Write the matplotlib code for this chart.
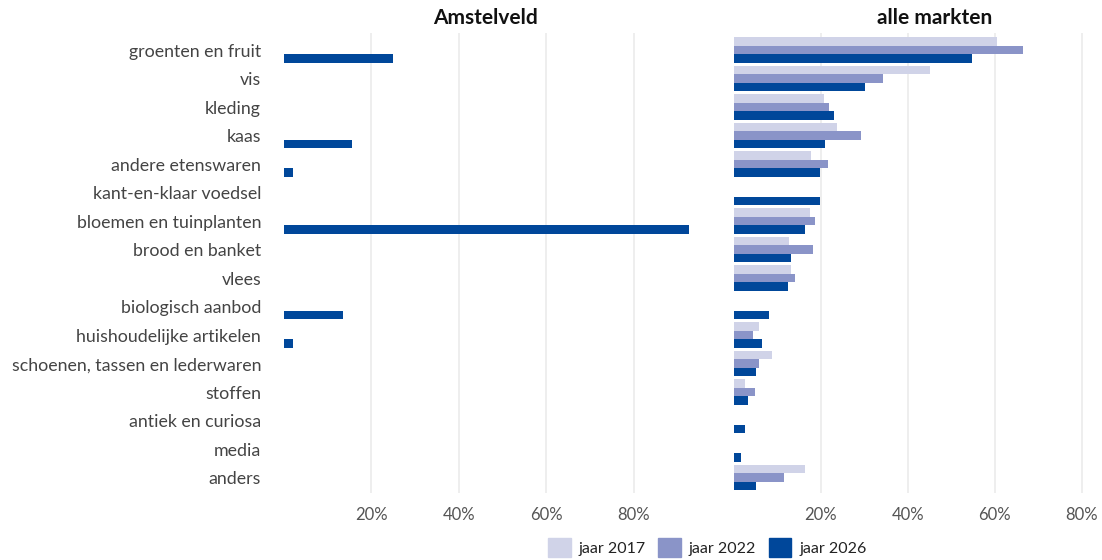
import matplotlib.pyplot as plt
from matplotlib.patches import Patch
import numpy as np

plt.rcParams['font.family'] = ['Lato', 'DejaVu Sans']

categories = ["groenten en fruit", "vis", "kleding", "kaas", "andere etenswaren",
              "kant-en-klaar voedsel", "bloemen en tuinplanten", "brood en banket",
              "vlees", "biologisch aanbod", "huishoudelijke artikelen",
              "schoenen, tassen en lederwaren", "stoffen", "antiek en curiosa",
              "media", "anders"]

# Amstelveld, only 2026 (nan = no bar)
amstelveld_2026 = [25.0, np.nan, np.nan, 15.6, 2.0, np.nan, 92.6, np.nan,
                   np.nan, 13.5, 2.0, np.nan, np.nan, np.nan, np.nan, np.nan]

# alle markten
markten_2017 = [60.5, 45.1, 20.7, 23.7, 17.7, np.nan, 17.5, 12.6,
                13.1, np.nan, 5.7, 8.7, 2.5, np.nan, np.nan, 16.3]
markten_2022 = [66.4, 34.3, 21.8, 29.2, 21.6, np.nan, 18.6, 18.2,
                14.0, np.nan, 4.4, 5.7, 4.8, np.nan, np.nan, 11.5]
markten_2026 = [54.7, 30.1, 23.0, 20.9, 19.8, 19.8, 16.3, 13.1,
                12.4, 8.0, 6.4, 5.1, 3.2, 2.5, 1.6, 5.1]

years = ["jaar 2017", "jaar 2022", "jaar 2026"]
colors = ["#d0d3e8", "#8a94c8", "#00479a"]
xticks = [20, 40, 60, 80]

fig = plt.figure(figsize=(11.02, 5.6), dpi=100)
ax_l = fig.add_axes([0.2577, 0.1196, 0.3793, 0.8214])
ax_r = fig.add_axes([0.666, 0.1196, 0.3276, 0.8214])

y = np.arange(len(categories))
h = 0.3

ax_l.barh(y + h, amstelveld_2026, height=h, color=colors[2])
for k, vals in enumerate([markten_2017, markten_2022, markten_2026]):
    ax_r.barh(y + (k - 1) * h, vals, height=h, color=colors[k])

for ax, xmax in [(ax_l, 95.6), (ax_r, 83.0)]:
    ax.set_xlim(0, xmax)
    ax.set_ylim(15.54, -0.6)
    ax.set_xticks(xticks)
    ax.set_xticklabels([f"{t}%" for t in xticks], fontsize=12, color="#555555")
    ax.grid(axis="x", color="#ebebeb", linewidth=1.2)
    ax.set_axisbelow(True)
    ax.tick_params(length=0, pad=10)
    for s in ax.spines.values():
        s.set_visible(False)

ax_l.set_yticks(y)
ax_l.set_yticklabels(categories, fontsize=12.8, color="#444444")
ax_l.tick_params(axis="y", pad=16.5)
ax_r.set_yticks([])

fig.text(485 / 1102, 1 - 18 / 560, "Amstelveld", ha="center", va="center",
         fontsize=15, fontweight="bold", color="#111111")
fig.text(935 / 1102, 1 - 18 / 560, "alle markten", ha="center", va="center",
         fontsize=15, fontweight="bold", color="#111111")

handles = [Patch(color=c) for c in colors]
fig.legend(handles, years, loc="lower center", bbox_to_anchor=(0.642, -0.02), ncol=3,
           frameon=False, fontsize=11.5, handlelength=1.4, handleheight=1.4,
           columnspacing=0.8, handletextpad=0.5, labelcolor="#222222")

fig.savefig("out.png", dpi=100)
